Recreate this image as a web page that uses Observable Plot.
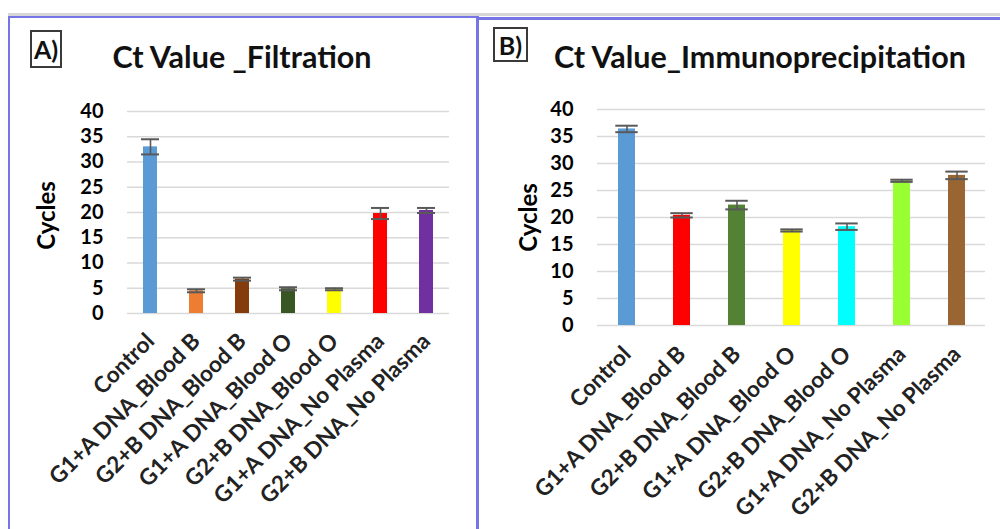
<!DOCTYPE html>
<html><head><meta charset="utf-8">
<script src="https://cdn.jsdelivr.net/npm/d3@7"></script>
<script src="https://cdn.jsdelivr.net/npm/@observablehq/plot@0.6"></script>
<style>
body{margin:0;background:#fff;}
#root{position:relative;width:1000px;height:529px;overflow:hidden;background:#fff;font-family:Lato, "Open Sans", sans-serif;}
.abs{position:absolute;}
.title{font-weight:bold;line-height:1;color:#111;text-align:center;white-space:nowrap;}
.tag{box-sizing:border-box;border:2px solid #3a3a3a;font-weight:bold;font-size:25px;line-height:1;color:#111;text-align:center;}
</style></head><body><div id="root"></div>
<script>
const categories = ["Control","G1+A DNA_Blood B","G2+B DNA_Blood B","G1+A DNA_Blood O","G2+B DNA_Blood O","G1+A DNA_No Plasma","G2+B DNA_No Plasma"];
const valuesA = [33.0, 4.5, 6.8, 4.9, 4.8, 19.8, 20.4];
const errorsA = [1.5, 0.3, 0.3, 0.3, 0.2, 1.1, 0.5];
const colorsA = ["#5B9BD5","#ED7D31","#843C0C","#375623","#FFFF00","#FF0000","#7030A0"];
const valuesB = [36.4, 20.4, 22.3, 17.6, 18.3, 26.8, 27.8];
const errorsB = [0.6, 0.4, 0.8, 0.2, 0.6, 0.2, 0.7];
const colorsB = ["#5B9BD5","#FF0000","#548235","#FFFF00","#00FFFF","#99FF33","#996633"];
const yTicks = [0,5,10,15,20,25,30,35,40];
const titles = ["Ct Value _Filtration","Ct Value_Immunoprecipitation"];
const panelTags = ["A)","B)"];
const yLabel = "Cycles";

const root = document.getElementById("root");
function addDiv(cls, style, text){
  const d = document.createElement("div");
  d.className = "abs " + (cls||"");
  Object.assign(d.style, style);
  if (text!=null) d.textContent = text;
  root.appendChild(d);
  return d;
}
// frame lines
addDiv("", {left:"8px", top:"13px", width:"992px", height:"3px", background:"#d6d6d6"});
addDiv("", {left:"8px", top:"16px", width:"466px", height:"600px", borderLeft:"2px solid #7575e6", borderTop:"2px solid #7575e6", borderRight:"3px solid #7575e6"});
addDiv("", {left:"477px", top:"17px", width:"523px", height:"3px", background:"#7575e6"});

function makePanel(values, errors, colors, o){
  const data = categories.map((c,i)=>({cat:c, v:values[i], e:errors[i], color:colors[i]}));
  const step = (o.width - o.ml - o.mr)/categories.length;
  const capInset = (step - o.cap)/2;
  const p = Plot.plot({
    width:o.width, height:o.height,
    marginLeft:o.ml, marginRight:o.mr, marginTop:o.mt, marginBottom:o.mb,
    style:{fontFamily:"Lato, 'Open Sans', sans-serif", background:"transparent", overflow:"visible"},
    x:{domain:categories, paddingInner:0.7, paddingOuter:0.35},
    y:{domain:[0,40]},
    color:{type:"identity"},
    marks:[
      Plot.gridY(yTicks, {stroke:"#d9d9d9", strokeOpacity:1, strokeWidth:1.6}),
      Plot.barY(data, {x:"cat", y:"v", fill:"color"}),
      Plot.ruleX(data, {x:"cat", y1:d=>d.v-d.e, y2:d=>d.v+d.e, stroke:"#595959", strokeWidth:1.6}),
      Plot.tickY(data, {x:"cat", y:d=>d.v+d.e, stroke:"#595959", strokeWidth:2, insetLeft:capInset, insetRight:capInset}),
      Plot.tickY(data, {x:"cat", y:d=>d.v-d.e, stroke:"#595959", strokeWidth:2, insetLeft:capInset, insetRight:capInset}),
      Plot.axisY(yTicks, {tickSize:0, tickPadding:24, fontSize:20, fontWeight:"bold", color:"#000", label:null}),
      Plot.axisX({tickSize:0, tickPadding:o.tp, tickRotate:-45, fontSize:22.5, fontWeight:"bold", color:"#222", label:null}),
      Plot.text([yLabel], {frameAnchor:"left", textAnchor:"middle", lineAnchor:"middle", dx:o.ldx, dy:o.ldy, rotate:-90, fontSize:24, fontWeight:"bold", fill:"#000"})
    ]
  });
  p.style.position = "absolute";
  p.style.left = o.left + "px";
  p.style.top = o.top + "px";
  root.appendChild(p);
}

makePanel(valuesA, errorsA, colorsA, {left:60, top:90, width:400, height:439, ml:67, mr:11, mt:21, mb:216, cap:14, tp:24, ldx:-80, ldy:3});
makePanel(valuesB, errorsB, colorsB, {left:510, top:90, width:490, height:439, ml:87, mr:15, mt:19, mb:204, cap:16, tp:25, ldx:-68, ldy:0});

addDiv("title", {left:"92px", top:"41px", width:"300px", fontSize:"30.5px"}, titles[0]);
addDiv("title", {left:"540px", top:"41px", width:"440px", fontSize:"30.5px"}, titles[1]);
addDiv("tag", {left:"30px", top:"30px", width:"32px", height:"38px", paddingTop:"5px"}, panelTags[0]);
addDiv("tag", {left:"493px", top:"27px", width:"35px", height:"35px", paddingTop:"4px"}, panelTags[1]);
</script></body></html>
